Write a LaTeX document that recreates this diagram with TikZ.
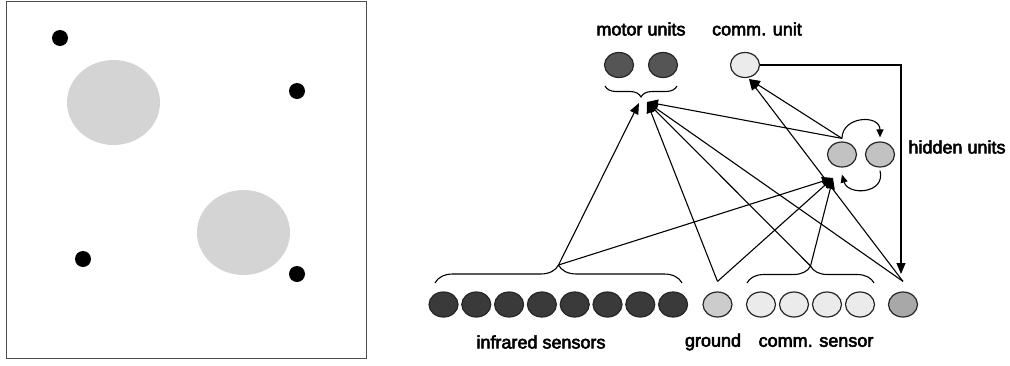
\documentclass[tikz,border=0pt]{standalone}
\usepackage{fontspec}
\setmainfont{Liberation Sans}
\newfontfamily\labelfont{Liberation Sans}[FakeBold=3]
\usetikzlibrary{shapes.geometric,decorations.pathreplacing,arrows.meta}
\definecolor{irgray}{HTML}{3A3A3A}
\definecolor{motorgray}{HTML}{555555}
\definecolor{groundgray}{HTML}{CCCCCC}
\definecolor{commgray}{HTML}{EBEBEB}
\definecolor{hiddengray}{HTML}{C2C2C2}
\definecolor{prevgray}{HTML}{A8A8A8}
\definecolor{zonegray}{HTML}{D4D4D4}
\begin{document}
\begin{tikzpicture}[x=1pt, y=-1pt,
    unit/.style={ellipse,draw=black!85,line width=1.2pt,minimum width=29pt,minimum height=25pt,inner sep=0pt},
    link/.style={line width=1.1pt,-{Triangle[length=11pt,width=9pt]}},
    recur/.style={line width=1.1pt,-{Triangle[length=8pt,width=7pt]}},
    curly/.style={decorate,decoration={brace,amplitude=#1},line width=1.1pt},
    lab/.style={font=\labelfont\fontsize{18}{20}\selectfont}]
                \useasboundingbox (0,0) rectangle (1010,365);
                % Arena with the two grey zones and the robots
                \draw[line width=1pt, black!70] (6,1) rectangle (366,358);
                \fill[zonegray] (113.5,102.5) ellipse [x radius=46.5, y radius=42.5];
                \fill[zonegray] (243.5,232.5) ellipse [x radius=46.5, y radius=42.5];
                \fill (60,38) circle [radius=8];
                \fill (297,91) circle [radius=8];
                \fill (83,259) circle [radius=8];
                \fill (297,274) circle [radius=8];
                % Output units
                \node[unit, fill=motorgray] (M1) at (619,65) {};
                \node[unit, fill=motorgray] (M2) at (663,65) {};
                \node[unit, fill=commgray] (C) at (745,65) {};
                % Hidden units
                \node[unit, fill=hiddengray] (H1) at (842,154.5) {};
                \node[unit, fill=hiddengray] (H2) at (880,154.5) {};
                % Infrared sensors
                \node[unit, fill=irgray] (IR1) at (443.5,304.5) {};
                \node[unit, fill=irgray] (IR2) at (476.3,304.5) {};
                \node[unit, fill=irgray] (IR3) at (509.1,304.5) {};
                \node[unit, fill=irgray] (IR4) at (541.9,304.5) {};
                \node[unit, fill=irgray] (IR5) at (574.7,304.5) {};
                \node[unit, fill=irgray] (IR6) at (607.5,304.5) {};
                \node[unit, fill=irgray] (IR7) at (640.3,304.5) {};
                \node[unit, fill=irgray] (IR8) at (673.1,304.5) {};
                % Ground, comm. sensors and previous comm. output
                \node[unit, fill=groundgray] (G) at (717.5,304.5) {};
                \node[unit, fill=commgray] (CS1) at (761,304.5) {};
                \node[unit, fill=commgray] (CS2) at (794,304.5) {};
                \node[unit, fill=commgray] (CS3) at (827,304.5) {};
                \node[unit, fill=commgray] (CS4) at (860,304.5) {};
                \node[unit, fill=prevgray] (P) at (903,304.5) {};
                % Braces
                \draw[curly=11pt] (677,86) -- (605,86);
                \draw[curly=18pt] (435,283) -- (682,283);
                \draw[curly=17pt] (747,283) -- (874,283);
                % Connection points
                \coordinate (mL) at (639,103);
                \coordinate (mR) at (647,102);
                \coordinate (irtip) at (558.5,265);
                \coordinate (cstip) at (810.5,266);
                \coordinate (gtop) at ([yshift=10pt]G.north);
                \coordinate (ptop) at ([yshift=10pt]P.north);
                \coordinate (hin) at (833,178);
                \coordinate (hout) at ([yshift=3pt]H1.north);
                \coordinate (cin) at (749,79);
                \coordinate (corner) at (901,65);
                \coordinate (pin) at (901,274);
                % Connections
                \draw[link] (irtip) -- (mL);
                \draw[link] (irtip) -- (hin);
                \draw[link] (gtop) -- (mR);
                \draw[link] (gtop) -- (hin);
                \draw[link] (cstip) -- (mR);
                \draw[link] (cstip) -- (hin);
                \draw[link] (ptop) -- (mR);
                \draw[link] (ptop) -- (cin);
                \draw[link] (hout) -- (mR);
                \draw[link] (hout) -- (cin);
                \draw[link] (C.east) -- (corner) -- (pin);
                % Recurrent hidden connections
                \draw[recur] (hout) .. controls (842,116) and (880,114) .. ([yshift=4pt]H2.north);
                \draw[recur] ([yshift=-3pt]H2.south) .. controls (886,194) and (848,196) .. ([yshift=-7pt]H1.south);
                % Labels
                \node[lab] (motorlab) at (641,29) {motor units};
                \node[lab] (commlab) at (757,29) {comm. unit};
                \node[lab] (hiddenlab) at (957,147) {hidden units};
                \node[lab] (irlab) at (541,342) {infrared sensors};
                \node[lab] (groundlab) at (713,342) {ground};
                \node[lab] (cslab) at (816,342) {comm. sensor};
\end{tikzpicture}
\end{document}
